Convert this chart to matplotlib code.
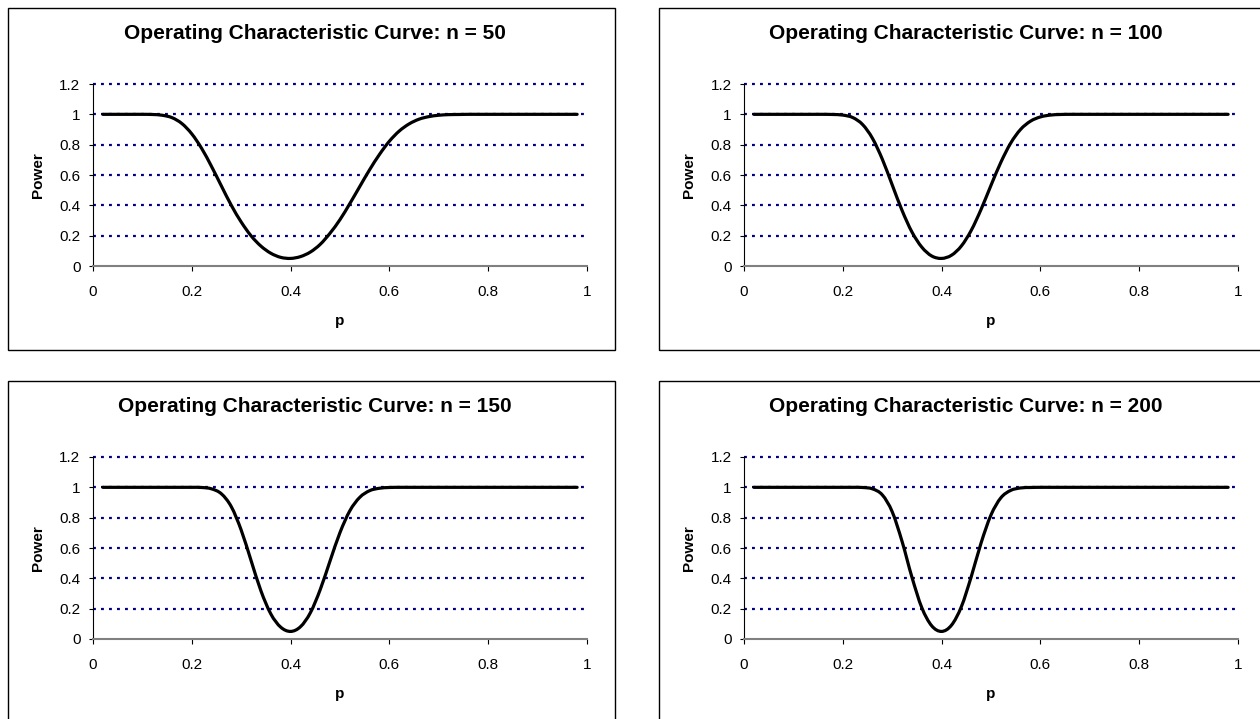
import matplotlib.pyplot as plt
from matplotlib.patches import Rectangle, PathPatch
from matplotlib.path import Path

# p values of the plotted points (0.02 .. 0.98)
p = [round(0.02 * i, 2) for i in range(1, 50)]

# power, same order as p
power_50 = [1, 1, 1, 1, 1, 0.999, 0.994, 0.978, 0.939, 0.871,
            0.775, 0.656, 0.527, 0.40, 0.29, 0.199, 0.131, 0.084, 0.057, 0.05,
            0.062, 0.092, 0.143, 0.217, 0.306, 0.412, 0.524, 0.635, 0.736, 0.823,
            0.89, 0.937, 0.968, 0.985, 0.994, 0.998, 0.999, 1, 1, 1,
            1, 1, 1, 1, 1, 1, 1, 1, 1]
power_100 = [1, 1, 1, 1, 1, 1, 1, 1, 0.999, 0.995,
             0.979, 0.933, 0.842, 0.704, 0.535, 0.366, 0.224, 0.124, 0.066, 0.05,
             0.071, 0.132, 0.235, 0.374, 0.532, 0.684, 0.811, 0.901, 0.955, 0.983,
             0.995, 0.999, 1, 1, 1, 1, 1, 1, 1, 1,
             1, 1, 1, 1, 1, 1, 1, 1, 1]
power_150 = [1, 1, 1, 1, 1, 1, 1, 1, 1, 1,
             0.999, 0.99, 0.957, 0.872, 0.718, 0.517, 0.317, 0.165, 0.078, 0.05,
             0.081, 0.173, 0.326, 0.516, 0.702, 0.846, 0.934, 0.978, 0.994, 0.999,
             1, 1, 1, 1, 1, 1, 1, 1, 1, 1,
             1, 1, 1, 1, 1, 1, 1, 1, 1]
power_200 = [1, 1, 1, 1, 1, 1, 1, 1, 1, 1,
             1, 0.999, 0.99, 0.95, 0.839, 0.643, 0.407, 0.206, 0.087, 0.05,
             0.091, 0.213, 0.411, 0.634, 0.818, 0.931, 0.98, 0.996, 0.999, 1,
             1, 1, 1, 1, 1, 1, 1, 1, 1, 1,
             1, 1, 1, 1, 1, 1, 1, 1, 1]

sample_sizes = [50, 100, 150, 200]
series = [power_50, power_100, power_150, power_200]

x_ticks = [0, 0.2, 0.4, 0.6, 0.8, 1]
x_labels = ['0', '0.2', '0.4', '0.6', '0.8', '1']
y_ticks = [0, 0.2, 0.4, 0.6, 0.8, 1, 1.2]
y_labels = ['0', '0.2', '0.4', '0.6', '0.8', '1', '1.2']


def smooth_line(xs, ys):
    # Excel style "smoothed line": cubic bezier through every point
    pts = list(zip(xs, ys))
    verts = [pts[0]]
    codes = [Path.MOVETO]
    for i in range(len(pts) - 1):
        x0, y0 = pts[max(i - 1, 0)]
        x1, y1 = pts[i]
        x2, y2 = pts[i + 1]
        x3, y3 = pts[min(i + 2, len(pts) - 1)]
        verts += [(x1 + (x2 - x0) / 6, y1 + (y2 - y0) / 6),
                  (x2 - (x3 - x1) / 6, y2 - (y3 - y1) / 6),
                  (x2, y2)]
        codes += [Path.CURVE4] * 3
    return Path(verts, codes)


plt.rcParams['font.family'] = ['Liberation Sans', 'DejaVu Sans']

W, H = 1260, 719
fig = plt.figure(figsize=(W / 100, H / 100), dpi=100)

# panel origins in pixels (box left, box top)
origins = [(8, 8), (659, 8), (8, 381), (659, 381)]

for (bx, by), n, vals in zip(origins, sample_sizes, series):
    # chart border
    fig.patches.append(Rectangle((bx / W, 1 - (by + 342) / H), 607 / W, 342 / H,
                                 transform=fig.transFigure, fill=False,
                                 edgecolor='black', linewidth=1.0))

    left = bx + 85
    top = by + 76
    ax = fig.add_axes([left / W, 1 - (top + 182) / H, 494 / W, 182 / H])

    for yv in y_ticks[1:]:
        ax.axhline(yv, color='#000080', linewidth=1.6, linestyle=(0, (1.3, 2.3)),
                   zorder=1, clip_on=False)

    ax.add_patch(PathPatch(smooth_line(p, vals), fill=False, edgecolor='black',
                           linewidth=2.3, zorder=3, joinstyle='round', capstyle='round'))

    ax.set_xlim(0, 1)
    ax.set_ylim(0, 1.2)
    ax.set_xticks(x_ticks)
    ax.set_xticklabels(x_labels)
    ax.set_yticks(y_ticks)
    ax.set_yticklabels(y_labels)
    ax.tick_params(axis='x', direction='out', length=3.5, width=0.8, labelsize=11, pad=10)
    ax.tick_params(axis='y', direction='out', length=3, width=0.8, labelsize=11, pad=6)
    for s in ['top', 'right']:
        ax.spines[s].set_visible(False)
    ax.spines['left'].set_linewidth(0.8)
    ax.spines['bottom'].set_linewidth(1.5)
    ax.spines['bottom'].set_color('#808080')

    ax.set_xlabel('p', fontsize=11, fontweight='bold', va='baseline')
    ax.xaxis.set_label_coords(0.5, -59 / 182)
    ax.set_ylabel('Power', fontsize=11, fontweight='bold', va='center')
    ax.yaxis.set_label_coords(-55 / 494, 0.5)

    fig.text((bx + 307) / W, 1 - (by + 31) / H,
             f'Operating Characteristic Curve: n = {n}',
             ha='center', va='baseline', fontsize=15, fontweight='bold')

fig.savefig('out.png', dpi=100)
